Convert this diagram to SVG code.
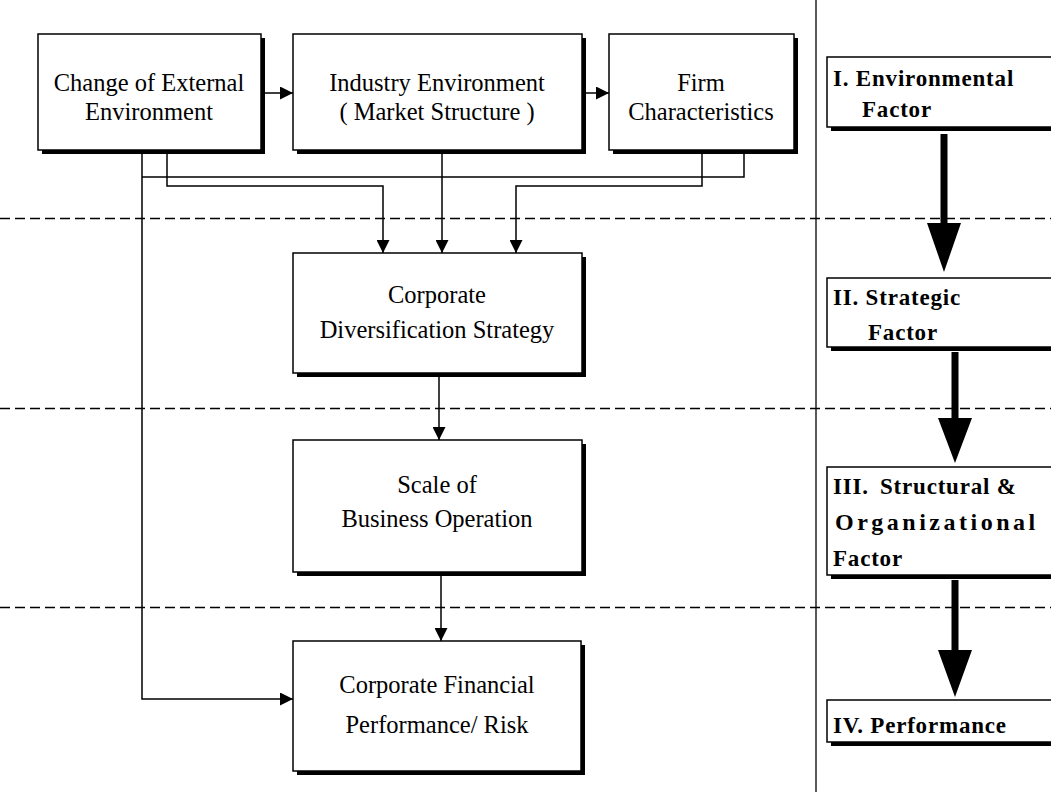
<svg xmlns="http://www.w3.org/2000/svg" width="1051" height="793" viewBox="0 0 1051 793">
  <style>
    .shadow { fill: #000; }
    .box { fill: #fff; stroke: #000; stroke-width: 1.5; }
    .lbl { font-family: "Liberation Serif", "Times New Roman", serif; font-size: 24.5px; fill: #000; text-anchor: middle; }
    .lvl { font-family: "Liberation Serif", "Times New Roman", serif; font-size: 23px; font-weight: bold; letter-spacing: 0.8px; fill: #000; }
    .wide { font-size: 24px; letter-spacing: 3.5px; }
    .wire { fill: none; stroke: #000; stroke-width: 1.5; }
    .dash { fill: none; stroke: #000; stroke-width: 1.3; stroke-dasharray: 10 5; }
    .big { fill: #000; }
  </style>
  <defs>
    <marker id="tip" markerUnits="userSpaceOnUse" markerWidth="14" markerHeight="13" refX="13" refY="6.5" orient="auto">
      <path d="M0,0 L13,6.5 L0,13 Z" fill="#000"/>
    </marker>
  </defs>

  <rect width="1051" height="793" fill="#fff"/>

  <!-- level separators -->
  <g id="separators">
    <line class="dash" x1="0" y1="218.5" x2="1051" y2="218.5"/>
    <line class="dash" x1="0" y1="408.5" x2="1051" y2="408.5"/>
    <line class="dash" x1="0" y1="607.5" x2="1051" y2="607.5"/>
    <line x1="816" y1="0" x2="816" y2="792" stroke="#000" stroke-width="1.3"/>
  </g>

  <!-- connectors -->
  <g id="connectors">
    <path class="wire" d="M265,93 H293" marker-end="url(#tip)"/>
    <path class="wire" d="M586,93 H609" marker-end="url(#tip)"/>
    <path class="wire" d="M167,154 V186 H383 V253" marker-end="url(#tip)"/>
    <path class="wire" d="M442,154 V253" marker-end="url(#tip)"/>
    <path class="wire" d="M702,154 V186 H516 V253" marker-end="url(#tip)"/>
    <path class="wire" d="M744,154 V177 H142"/>
    <path class="wire" d="M142,154 V699 H293" marker-end="url(#tip)"/>
    <path class="wire" d="M439,377 V440" marker-end="url(#tip)"/>
    <path class="wire" d="M441,576 V641" marker-end="url(#tip)"/>
  </g>

  <!-- left column nodes -->
  <g id="external">
    <rect class="shadow" x="42" y="38" width="223" height="116"/>
    <rect class="box" x="38" y="34" width="223" height="116"/>
    <text class="lbl" x="149" y="91">Change of External</text>
    <text class="lbl" x="149" y="120">Environment</text>
  </g>
  <g id="industry">
    <rect class="shadow" x="297" y="38" width="289" height="116"/>
    <rect class="box" x="293" y="34" width="289" height="116"/>
    <text class="lbl" x="437" y="91">Industry Environment</text>
    <text class="lbl" x="437" y="120">( Market Structure )</text>
  </g>
  <g id="firm">
    <rect class="shadow" x="613" y="38" width="185" height="116"/>
    <rect class="box" x="609" y="34" width="185" height="116"/>
    <text class="lbl" x="701" y="91">Firm</text>
    <text class="lbl" x="701" y="120">Characteristics</text>
  </g>
  <g id="strategy">
    <rect class="shadow" x="297" y="257" width="289" height="120"/>
    <rect class="box" x="293" y="253" width="289" height="120"/>
    <text class="lbl" x="437" y="303">Corporate</text>
    <text class="lbl" x="437" y="338">Diversification Strategy</text>
  </g>
  <g id="scale">
    <rect class="shadow" x="297" y="444" width="289" height="132"/>
    <rect class="box" x="293" y="440" width="289" height="132"/>
    <text class="lbl" x="437" y="493">Scale of</text>
    <text class="lbl" x="437" y="527">Business Operation</text>
  </g>
  <g id="performance">
    <rect class="shadow" x="297" y="645" width="288" height="130"/>
    <rect class="box" x="293" y="641" width="288" height="130"/>
    <text class="lbl" x="437" y="693">Corporate Financial</text>
    <text class="lbl" x="437" y="733">Performance/ Risk</text>
  </g>

  <!-- right column: factor levels -->
  <g id="level-1">
    <rect class="shadow" x="831" y="61" width="230" height="70"/>
    <rect class="box" x="827" y="57" width="230" height="70"/>
    <text class="lvl" x="833" y="86">I. Environmental</text>
    <text class="lvl" x="862" y="117">Factor</text>
  </g>
  <g id="level-2">
    <rect class="shadow" x="831" y="282" width="230" height="69"/>
    <rect class="box" x="827" y="278" width="230" height="69"/>
    <text class="lvl" x="833" y="305">II. Strategic</text>
    <text class="lvl" x="868" y="340">Factor</text>
  </g>
  <g id="level-3">
    <rect class="shadow" x="831" y="471" width="230" height="108"/>
    <rect class="box" x="827" y="467" width="230" height="108"/>
    <text class="lvl" x="833" y="494">III.</text>
    <text class="lvl" x="880" y="494">Structural &amp;</text>
    <text class="lvl wide" x="835" y="530">Organizational</text>
    <text class="lvl" x="833" y="566">Factor</text>
  </g>
  <g id="level-4">
    <rect class="shadow" x="831" y="704" width="230" height="42"/>
    <rect class="box" x="827" y="700" width="230" height="42"/>
    <text class="lvl" x="833" y="733">IV. Performance</text>
  </g>

  <!-- heavy arrows between levels -->
  <g id="level-arrows">
    <path class="big" d="M940.5,134 H947.5 V223 H961 L944,272 L927,223 H940.5 Z"/>
    <path class="big" d="M951.5,352 H958.5 V418 H972 L955,463 L938,418 H951.5 Z"/>
    <path class="big" d="M951.5,580 H958.5 V650 H972 L955,697 L938,650 H951.5 Z"/>
  </g>
</svg>
